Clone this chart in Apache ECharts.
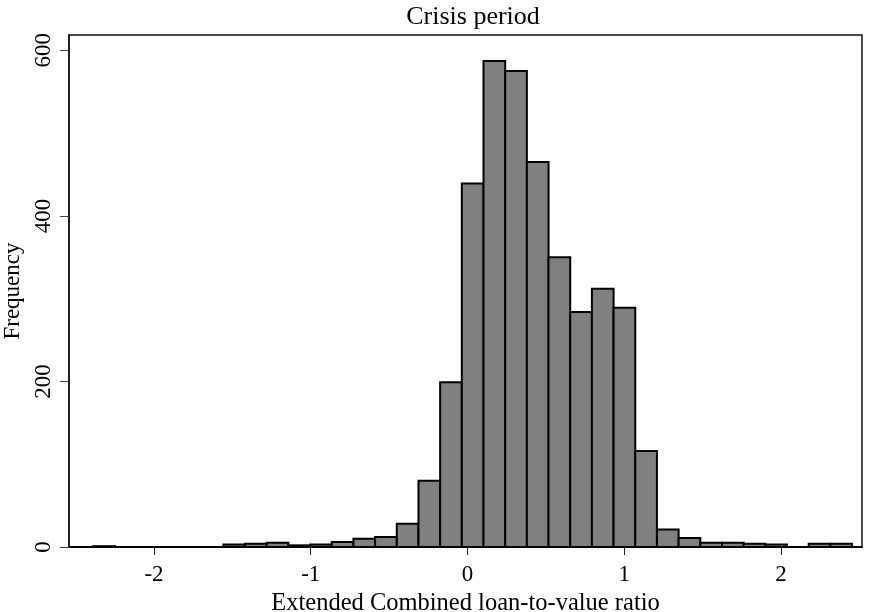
<!DOCTYPE html>
<html>
<head>
<meta charset="utf-8">
<script src="https://cdn.jsdelivr.net/npm/echarts@6/dist/echarts.min.js"></script>
<style>html,body{margin:0;padding:0;background:#fff;}#c{width:869px;height:612px;}</style>
</head>
<body>
<div id="c"></div>
<script>
// Histogram data (35 equal-width bins)
const binStart = -2.387;
const binWidth = 0.1383;
const counts = [1,0,0,0,0,0,3,4,5,2,3,6,10,12,28,80,199,439,587,575,465,350,284,312,289,116,21,11,5,5,4,3,0,4,4];
const xTicks = [-2,-1,0,1,2];
const yTicks = [0,200,400,600];
const titleText = 'Crisis period';
const xTitle = 'Extended Combined loan-to-value ratio';
const yTitle = 'Frequency';

const data = counts.map((c,i)=>[binStart+i*binWidth, binStart+(i+1)*binWidth, c]);
const FONT = 'Liberation Serif';

const chart = echarts.init(document.getElementById('c'), null, {renderer:'canvas'});
chart.setOption({
  animation:false,
  backgroundColor:'#fff',
  title:{text:titleText,left:468,top:-1,textAlign:'center',textStyle:{fontFamily:FONT,fontSize:26,fontWeight:'normal',color:'#000'}},
  grid:{left:69,right:7,top:35,bottom:65,outerBoundsMode:'none',containLabel:false,show:true,borderColor:'#111',borderWidth:1.5,backgroundColor:'#fff'},
  xAxis:{type:'value',min:-2.542,max:2.517,
    name:xTitle,nameLocation:'middle',nameGap:36,
    nameTextStyle:{fontFamily:FONT,fontSize:24.5,color:'#000'},
    axisLine:{show:true,onZero:false,lineStyle:{color:'#000',width:2}},
    axisTick:{show:true,length:8,customValues:xTicks,lineStyle:{color:'#222',width:1}},
    axisLabel:{customValues:xTicks,fontFamily:FONT,fontSize:23,color:'#000',margin:16},
    splitLine:{show:false}},
  yAxis:{type:'value',min:0,max:618.5,
    name:yTitle,nameLocation:'middle',nameGap:40,nameRotate:90,
    nameTextStyle:{fontFamily:FONT,fontSize:23,color:'#000'},
    axisLine:{show:true,onZero:false,lineStyle:{color:'#111',width:1.5}},
    axisTick:{show:true,length:9,customValues:yTicks,lineStyle:{color:'#444',width:1}},
    axisLabel:{customValues:yTicks,rotate:90,fontFamily:FONT,fontSize:23,color:'#000',margin:14},
    splitLine:{show:false}},
  series:[{
    type:'custom',
    data:data,
    encode:{x:[0,1],y:2},
    renderItem:function(params,api){
      const v = api.value(2);
      if(v<=0) return null;
      const p0 = api.coord([api.value(0), v]);
      const p1 = api.coord([api.value(1), 0]);
      return {type:'rect',shape:{x:p0[0],y:p0[1],width:p1[0]-p0[0],height:p1[1]-p0[1]},
        style:{fill:'#808080',stroke:'#000',lineWidth:2}};
    }
  }]
});
</script>
</body>
</html>
